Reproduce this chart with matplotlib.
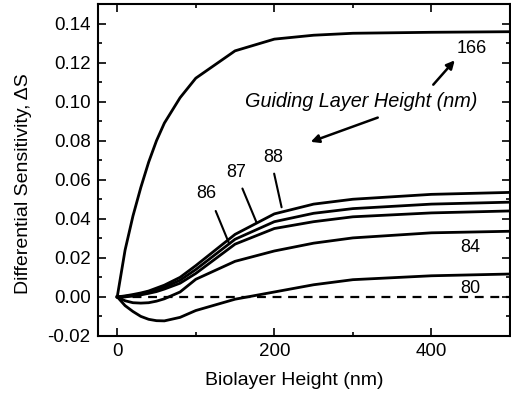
import numpy as np
import matplotlib.pyplot as plt
from matplotlib.ticker import MultipleLocator

plt.rcParams['font.family'] = ['Liberation Sans', 'DejaVu Sans']

# biolayer height (nm)
x = [0, 10, 20, 30, 40, 50, 60, 80, 100, 150, 200, 250, 300, 400, 500]

s166 = [0, 0.024, 0.0414, 0.056, 0.069, 0.080, 0.089, 0.102, 0.112, 0.126, 0.132, 0.134, 0.135, 0.1355, 0.1358]
s88 = [0, 0.0005, 0.0012, 0.002, 0.003, 0.0045, 0.006, 0.010, 0.0160, 0.0320, 0.0425, 0.0475, 0.050, 0.0525, 0.0535]
s87 = [0, 0.0003, 0.0008, 0.0015, 0.0025, 0.0035, 0.005, 0.0085, 0.0140, 0.0295, 0.0385, 0.0428, 0.0452, 0.0475, 0.0485]
s86 = [0, 0.0, 0.0004, 0.001, 0.0018, 0.0027, 0.004, 0.007, 0.0120, 0.0270, 0.0350, 0.0385, 0.041, 0.043, 0.044]
s84 = [0, -0.002, -0.003, -0.0032, -0.003, -0.0022, -0.001, 0.0025, 0.0090, 0.0182, 0.0235, 0.0275, 0.0302, 0.0328, 0.0336]
s80 = [0, -0.0045, -0.0075, -0.0100, -0.0115, -0.0122, -0.0123, -0.0105, -0.0070, -0.0012, 0.0025, 0.0062, 0.0088, 0.0108, 0.0117]

curves = [s166, s88, s87, s86, s84, s80]

fig = plt.figure(figsize=(5.11, 3.98), dpi=100)
ax = fig.add_axes([0.191, 0.156, 0.807, 0.834])

for s in curves:
    ax.plot(x, s, color='black', lw=2)
ax.plot([0, 500], [0, 0], color='black', lw=1.6, dashes=(4, 3))

ax.set_xlim(-25, 500)
ax.set_ylim(-0.02, 0.15)
ax.xaxis.set_major_locator(MultipleLocator(200))
ax.xaxis.set_minor_locator(MultipleLocator(100))
ax.yaxis.set_minor_locator(MultipleLocator(0.01))
ax.set_yticks([-0.02, 0.0, 0.02, 0.04, 0.06, 0.08, 0.10, 0.12, 0.14])
ax.set_yticklabels(['-0.02', '0.00', '0.02', '0.04', '0.06', '0.08', '0.10', '0.12', '0.14'])
ax.tick_params(which='both', direction='in', top=True, right=True, labelsize=13.5, width=1.2)
ax.tick_params(which='major', length=6, pad=5)
ax.tick_params(which='minor', length=3)
for sp in ax.spines.values():
    sp.set_linewidth(1.5)

ax.set_xlabel('Biolayer Height (nm)', fontsize=14)
ax.set_ylabel('Differential Sensitivity, ΔS', fontsize=14)
ax.xaxis.set_label_coords(0.477, -0.11)
ax.yaxis.set_label_coords(-0.16, 0.46)

ax.text(451, 0.1272, '166', fontsize=13, ha='center', va='center')
ax.text(310, 0.1, 'Guiding Layer Height (nm)', fontsize=14.3, style='italic',
        ha='center', va='center')
ax.annotate('', xy=(432, 0.1222), xytext=(400, 0.1076),
            arrowprops=dict(arrowstyle='-|>', color='black', lw=1.8, mutation_scale=12))
ax.annotate('', xy=(243, 0.0789), xytext=(335, 0.0923),
            arrowprops=dict(arrowstyle='-|>', color='black', lw=1.8, mutation_scale=12))

ax.text(113, 0.053, '86', fontsize=13, ha='center', va='center')
ax.text(152, 0.0636, '87', fontsize=13, ha='center', va='center')
ax.text(198, 0.0713, '88', fontsize=13, ha='center', va='center')
line = dict(arrowstyle='-', color='black', lw=1.5)
ax.annotate('', xy=(144, 0.0258), xytext=(124, 0.0453), arrowprops=line)
ax.annotate('', xy=(179, 0.0365), xytext=(158, 0.0568), arrowprops=line)
ax.annotate('', xy=(210, 0.0445), xytext=(199, 0.0645), arrowprops=line)

ax.text(450, 0.0253, '84', fontsize=13, ha='center', va='center')
ax.text(450, 0.0042, '80', fontsize=13, ha='center', va='center')

fig.savefig('out.png', dpi=100)
